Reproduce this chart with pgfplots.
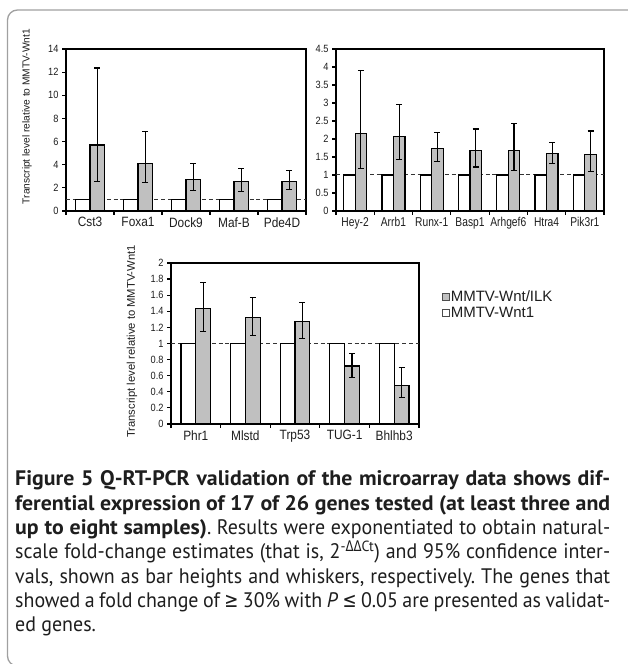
\documentclass[border=0pt]{standalone}
\usepackage{fontspec}
\setmainfont{Liberation Sans}
\newfontfamily\chfont[FakeStretch=0.88]{Liberation Sans}
\newfontfamily\chfontn[FakeStretch=0.8]{Liberation Sans}
\newfontfamily\capfont[FakeStretch=0.95, BoldFeatures={FakeStretch=1.04}]{PT Sans}
\newfontfamily\symfont[FakeStretch=0.8]{DejaVu Sans}
\usepackage{pgfplots}
\usepackage{pgfplotstable}
\pgfplotsset{compat=1.18}
\definecolor{barfill}{RGB}{192,192,192}
\definecolor{framecol}{RGB}{160,160,160}
\definecolor{txt}{RGB}{30,30,30}
\frenchspacing

% gray bars (MMTV-Wnt/ILK): x position, height, error plus, error minus
\pgfplotstableread{
x y ep em
0.15 5.70 6.65 3.13
1.15 4.11 2.77 1.65
2.15 2.72 1.36 0.93
3.15 2.57 1.10 0.86
4.15 2.57 0.93 0.72
}\tA
\pgfplotstableread{
x y ep em
0.15 2.15 1.76 0.97
1.15 2.07 0.89 0.63
2.15 1.74 0.44 0.37
3.15 1.67 0.61 0.45
4.15 1.67 0.77 0.54
5.15 1.59 0.31 0.28
6.15 1.56 0.66 0.46
}\tB
\pgfplotstableread{
x y ep em
0.15 1.43 0.33 0.28
1.15 1.32 0.25 0.22
2.15 1.27 0.24 0.21
3.15 0.72 0.16 0.14
4.15 0.475 0.23 0.15
}\tC

\pgfplotsset{
  panel/.style={
    scale only axis,
    xmin=-0.5, ymin=0,
    axis line style={line width=1.4pt, black},
    tick align=outside,
    xtick pos=bottom, ytick pos=left,
    major tick length=4pt, minor tick length=4pt,
    every tick/.style={black, line width=1.2pt},
    major x tick style={draw=none},
    ticklabel style={text=txt},
    yticklabel style={font=\chfont\fontsize{10.5}{12}\selectfont},
    xticklabel style={font=\chfont\fontsize{13.5}{15}\selectfont, yshift=1pt},
    /pgf/number format/assume math mode=true,
    clip=false,
  },
  graybar/.style={ybar, bar width=0.3, bar shift=0pt, fill=barfill, draw=black, line width=1.2pt,
    error bars/.cd, y dir=both, y explicit,
    error bar style={line width=1.2pt, black},
    error mark options={rotate=90, line width=1.2pt, black, mark size=3pt}},
  whitebar/.style={ybar, bar width=0.3, bar shift=0pt, fill=white, draw=black, line width=1.2pt},
  refline/.style={black!80, line width=1pt, dash pattern=on 4pt off 2.8pt, forget plot},
}

\begin{document}
\begin{tikzpicture}[x=1pt,y=1pt]
\useasboundingbox (0,0) rectangle (628,664);
\fill[white] (0,0) rectangle (628,664);
\draw[framecol, line width=1.3pt, rounded corners=10pt] (7.5,-2) rectangle (640,654);

% Panel 1
\begin{axis}[panel, at={(66pt,453pt)}, anchor=south west, width=240pt, height=162pt,
  xmax=4.5, ymax=14, ytick={0,2,...,14},
  xtick={0,1,2,3,4},
  minor xtick={-0.5,0.5,1.5,2.5,3.5,4.5},
  xticklabels={Cst3,Foxa1,Dock9,Maf-B,Pde4D}]
\addplot[refline] coordinates {(-0.5,1) (4.5,1)};
\addplot[whitebar] coordinates {(-0.15,1) (0.85,1) (1.85,1) (2.85,1) (3.85,1)};
\addplot[graybar] table[x=x, y=y, y error plus=ep, y error minus=em] {\tA};
\end{axis}
\node[rotate=90, text=txt, font=\fontsize{10.2}{12}\selectfont, inner sep=0pt] at (27,547.5) {Transcript level relative to MMTV-Wnt1};

% Panel 2
\begin{axis}[panel, at={(336pt,453pt)}, anchor=south west, width=268pt, height=162pt,
  xmax=6.5, ymax=4.5, ytick={0,0.5,...,4.5},
  xtick={0,1,2,3,4,5,6},
  minor xtick={-0.5,0.5,1.5,2.5,3.5,4.5,5.5,6.5},
  xticklabel style={font=\chfontn\fontsize{12.8}{15}\selectfont},
  xticklabels={Hey-2,Arrb1,Runx-1,Basp1,Arhgef6,Htra4,Pik3r1}]
\addplot[refline] coordinates {(-0.5,1) (6.5,1)};
\addplot[whitebar] coordinates {(-0.15,1) (0.85,1) (1.85,1) (2.85,1) (3.85,1) (4.85,1) (5.85,1)};
\addplot[graybar] table[x=x, y=y, y error plus=ep, y error minus=em] {\tB};
\end{axis}

% Panel 3
\begin{axis}[panel, at={(171pt,240pt)}, anchor=south west, width=248pt, height=161pt,
  xmax=4.5, ymax=2, ytick={0,0.2,...,2},
  xtick={0,1,2,3,4},
  minor xtick={-0.5,0.5,1.5,2.5,3.5,4.5},
  xticklabels={Phr1,Mlstd,Trp53,TUG-1,Bhlhb3},
  legend style={draw=none, fill=none, at={(axis description cs:1.09,0.74)}, anchor=west,
    font=\fontsize{15}{18}\selectfont, text=txt, row sep=1pt, inner sep=0pt,
    nodes={inner sep=1.5pt}},
  legend cell align=left,
  legend image code/.code={\draw[#1, draw=black!70, line width=0.8pt] (0pt,-3.5pt) rectangle (7pt,3.5pt);}]
\addplot[refline] coordinates {(-0.5,1) (4.5,1)};
\addplot[graybar] table[x=x, y=y, y error plus=ep, y error minus=em] {\tC};
\addlegendentry{MMTV-Wnt/ILK}
\addplot[whitebar] coordinates {(-0.15,1) (0.85,1) (1.85,1) (2.85,1) (3.85,1)};
\addlegendentry{MMTV-Wnt1}
\end{axis}
\node[rotate=90, text=txt, font=\fontsize{11.2}{13}\selectfont, inner sep=0pt] at (132,322.5) {Transcript level relative to MMTV-Wnt1};

% Caption
\node[anchor=base west, inner sep=0pt, text=txt] at (15,178) {\parbox[t]{595pt}{\capfont\fontsize{21}{24.3}\selectfont
\makebox[595pt][s]{\bfseries Figure 5 Q-RT-PCR validation of the microarray data shows dif-}\par
\makebox[595pt][s]{\bfseries ferential expression of 17 of 26 genes tested (at least three and}\par
\makebox[595pt][s]{\textbf{up to eight samples)}. Results were exponentiated to obtain natural-}\par
\makebox[595pt][s]{scale fold-change estimates (that is, 2\textsuperscript{-{\symfont ΔΔ}Ct}) and 95\% confidence inter-}\par
\makebox[595pt][s]{vals, shown as bar heights and whiskers, respectively. The genes that}\par
\makebox[595pt][s]{showed a fold change of {\symfont ≥} 30\% with \textit{P} {\symfont ≤} 0.05 are presented as validat-}\par
ed genes.}};
\end{tikzpicture}
\end{document}
